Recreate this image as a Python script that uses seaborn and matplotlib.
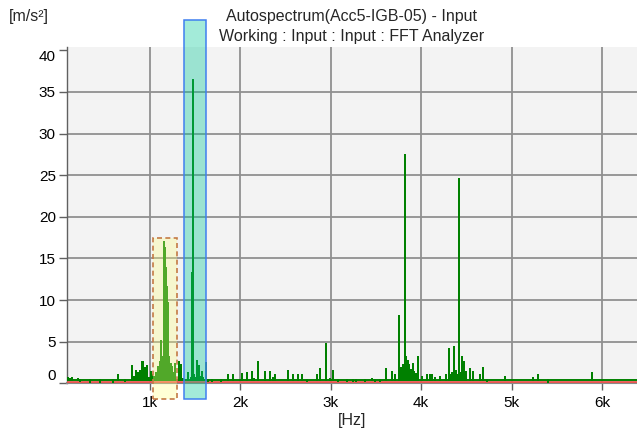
import numpy as np
import pandas as pd
import matplotlib
matplotlib.use("Agg")
import matplotlib.pyplot as plt
import matplotlib.colors as mcolors
from matplotlib.patches import Rectangle
import seaborn as sns

# ---------------- data ----------------
freqs_hz = [102, 124, 146, 168, 212, 234, 345, 455, 543, 599, 654, 731, 808, 831, 853, 875,
            897, 919, 930, 952, 974, 996, 1013, 1029, 1051, 1073, 1095, 1112, 1128, 1140,
            1150, 1156, 1163, 1171, 1179, 1187, 1195, 1203, 1211, 1219, 1227, 1235, 1247,
            1260, 1275, 1285, 1327, 1349, 1370, 1426, 1455, 1465, 1476, 1487, 1498, 1522,
            1544, 1565, 1577, 1595, 1625, 1645, 1685, 1785, 1871, 1926, 1985, 2018, 2073,
            2129, 2155, 2202, 2235, 2276, 2331, 2365, 2387, 2425, 2485, 2534, 2585, 2640,
            2681, 2735, 2847, 2884, 2950, 2995, 3031, 3085, 3185, 3251, 3285, 3381, 3455,
            3495, 3545, 3609, 3675, 3711, 3751, 3775, 3795, 3805, 3821, 3833, 3851, 3860,
            3869, 3885, 3896, 3913, 3925, 3943, 3969, 4005, 4065, 4100, 4125, 4155, 4209,
            4275, 4310, 4330, 4345, 4365, 4385, 4400, 4421, 4440, 4455, 4475, 4495, 4540,
            4575, 4650, 4685, 4725, 4835, 4925, 4995, 5235, 5290, 5405, 5635, 5893]
amps = [0.6, 0.5, 0.6, 0.4, 0.5, 0.3, 0.2, 0.2, 0.4, 0.2, 1.0, 0.3, 2.1, 0.7, 1.5, 1.2,
        1.5, 2.5, 2.6, 1.8, 2.1, 0.6, 1.3, 1.0, 0.7, 1.2, 1.9, 2.5, 5.1, 3.0,
        3.2, 6.0, 17.0, 16.2, 13.8, 11.6, 11.2, 9.6, 3.2, 2.4, 1.6, 2.3, 2.0,
        1.2, 2.3, 0.8, 2.6, 2.2, 0.5, 1.2, 0.6, 13.3, 36.4, 1.0, 0.6, 2.7,
        2.1, 0.8, 1.3, 0.6, 2.4, 0.3, 0.3, 0.3, 1.0, 1.0, 0.4, 1.1, 1.2,
        1.4, 0.5, 2.5, 0.4, 1.4, 1.3, 0.6, 1.0, 0.4, 0.4, 1.5, 1.0, 1.0,
        1.0, 0.3, 1.0, 1.7, 4.7, 0.5, 1.5, 0.3, 0.3, 0.3, 0.3, 0.3, 0.5,
        0.3, 0.3, 1.7, 1.3, 1.0, 8.1, 1.8, 2.2, 1.5, 27.4, 3.1, 2.7, 1.9,
        2.2, 1.6, 1.2, 2.3, 1.4, 1.1, 3.1, 0.8, 1.0, 1.0, 1.0, 0.6, 0.7,
        1.0, 4.1, 1.0, 1.2, 4.4, 1.5, 1.0, 24.6, 1.2, 3.1, 2.5, 1.3, 1.7,
        1.3, 1.0, 1.8, 0.3, 0.4, 0.8, 0.4, 0.6, 1.0, 0.2, 0.4, 1.2]
noise_floor = 0.38
reference_level = 0.18

x_ticks = [1000, 2000, 3000, 4000, 5000, 6000]
x_tick_labels = ["1k", "2k", "3k", "4k", "5k", "6k"]
y_ticks = [0, 5, 10, 15, 20, 25, 30, 35, 40]
y_tick_labels = ["0", "5", "10", "15", "20", "25", "30", "35", "40"]

title_line1 = "Autospectrum(Acc5-IGB-05) - Input"
title_line2 = "Working : Input : Input : FFT Analyzer"
y_unit = "[m/s²]"
x_unit = "[Hz]"

yellow_band = [1033, 1303, -1.9, 17.5]   # f_start, f_end, y_bottom, y_top
blue_band = [1385, 1625, -1.9, 43.6]
x_range = [87, 6386]
y_range = [0.0, 40.4]

# ---------------- style ----------------
sns.set_style("white")
plt.rcParams['font.family'] = ['Liberation Sans', 'DejaVu Sans']

W, H = 637, 430
fig = plt.figure(figsize=(W / 100, H / 100), dpi=100)
ax = fig.add_axes([67 / W, 1 - 383.3 / H, 570 / W, 336.3 / H])
ax.set_facecolor('#f3f3f3')

# spectrum as spikes from the noise floor
xs = [x_range[0]]
ys = [noise_floor]
for f, a in zip(freqs_hz, amps):
    xs += [f, f, f]
    ys += [noise_floor, a, noise_floor]
xs.append(x_range[1])
ys.append(noise_floor)
spec = pd.DataFrame({"Frequency": xs, "Amplitude": ys})

ref = pd.DataFrame({"Frequency": x_range, "Amplitude": [reference_level, reference_level]})
sns.lineplot(data=ref, x="Frequency", y="Amplitude", ax=ax, color='#e8564f', lw=2.0,
             zorder=3, estimator=None, sort=False)
sns.lineplot(data=spec, x="Frequency", y="Amplitude", ax=ax, color='#008000', lw=1.4,
             zorder=4, estimator=None, sort=False)

# highlighted bands
yf0, yf1, yb0, yb1 = yellow_band
ax.add_patch(Rectangle((yf0, yb0), yf1 - yf0, yb1 - yb0,
                       facecolor=mcolors.to_rgba('#ffff80', 0.32),
                       edgecolor='#c47a45', lw=1.2, linestyle=(0, (3, 2)),
                       clip_on=False, zorder=5))
bf0, bf1, bb0, bb1 = blue_band
ax.add_patch(Rectangle((bf0, bb0), bf1 - bf0, bb1 - bb0,
                       facecolor=mcolors.to_rgba('#00c896', 0.36),
                       edgecolor='#3f7ff0', lw=1.1,
                       clip_on=False, zorder=5))

ax.set_xlim(*x_range)
ax.set_ylim(*y_range)
ax.set_xticks(x_ticks)
ax.set_xticklabels(x_tick_labels)
ax.set_yticks(y_ticks)
ax.set_yticklabels(y_tick_labels)
ax.set_xlabel("")
ax.set_ylabel("")

ax.grid(True, color='#909090', lw=1.3, zorder=1)
ax.set_axisbelow(True)
ax.yaxis.get_gridlines()[-1].set_visible(False)
ax.yaxis.get_gridlines()[0].set_visible(False)

for s in ['top', 'right']:
    ax.spines[s].set_visible(False)
ax.spines['left'].set_color('#606060')
ax.spines['left'].set_linewidth(1.0)
ax.spines['bottom'].set_color('#8a8a8a')
ax.spines['bottom'].set_linewidth(1.5)

ax.tick_params(axis='y', length=6, width=1, color='#606060', pad=2, labelsize=11,
               labelcolor='black', left=True)
ax.tick_params(axis='x', length=5, width=1, color='#606060', pad=4, labelsize=11,
               labelcolor='black', bottom=True)

yt = ax.yaxis.get_major_ticks()
yt[0].label1.set_verticalalignment('bottom')
yt[-1].label1.set_verticalalignment('top')

fig.text(352 / W, 1 - 16 / H, title_line1, ha='center', va='center', fontsize=11.5)
fig.text(352 / W, 1 - 37 / H, title_line2, ha='center', va='center', fontsize=11.5)
fig.text(9 / W, 1 - 17 / H, y_unit, ha='left', va='center', fontsize=11.5)
fig.text(352 / W, 1 - 421 / H, x_unit, ha='center', va='center', fontsize=11.5)

fig.savefig("out.png", dpi=100)
